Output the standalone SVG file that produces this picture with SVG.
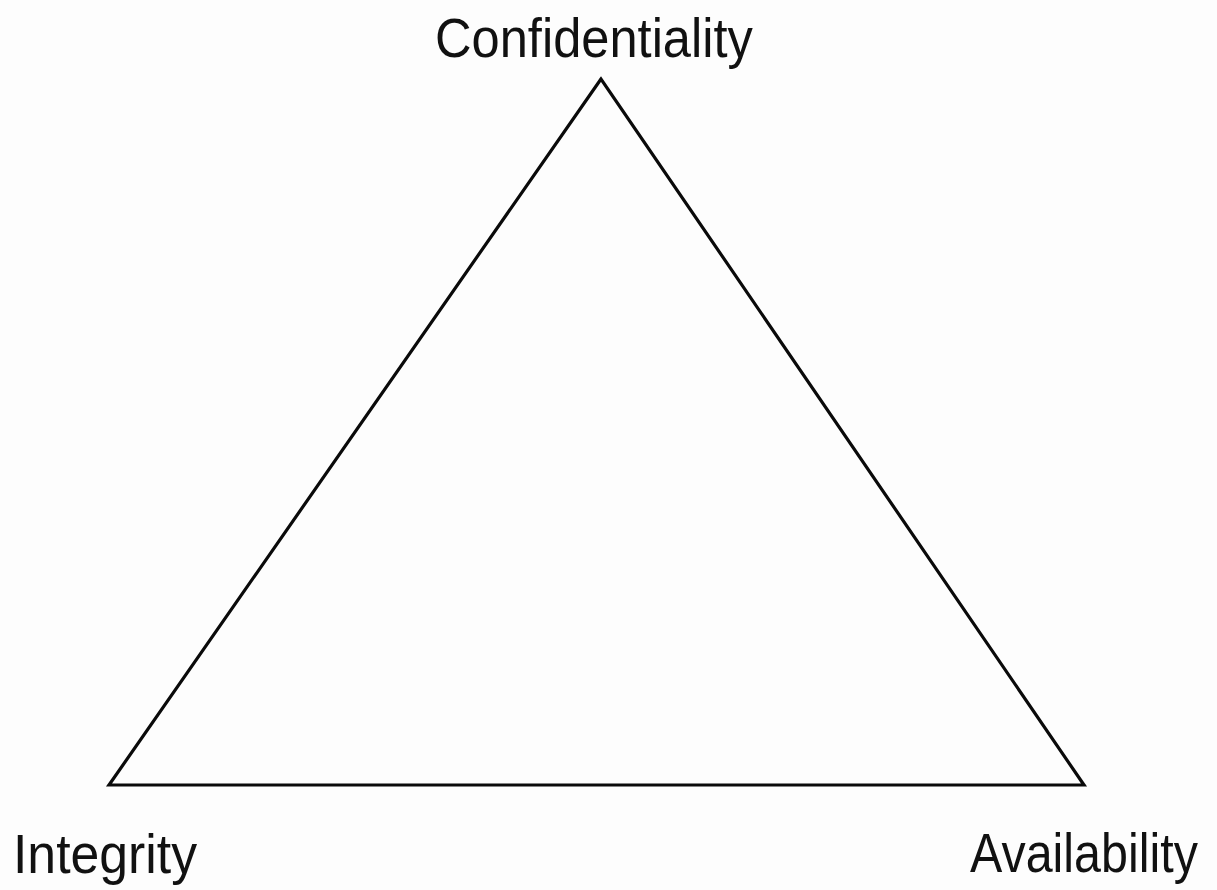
<svg xmlns="http://www.w3.org/2000/svg" width="1217" height="890" viewBox="0 0 1217 890">
<style>
.lbl{font-family:"Liberation Sans",Arial,sans-serif;font-size:56px;fill:#111;}
.edge{fill:none;stroke:#0a0a0a;stroke-width:3.2;stroke-linejoin:miter;}
</style>
<rect width="1217" height="890" fill="#fdfdfd"/>
<g id="connectors">
<polygon class="edge" points="601,79 109,785 1084,785"/>
</g>
<g id="confidentiality"><text class="lbl" transform="translate(435,57) scale(0.904,1)">Confidentiality</text></g>
<g id="integrity"><text class="lbl" transform="translate(13,873) scale(0.924,1)">Integrity</text></g>
<g id="availability"><text class="lbl" transform="translate(970,872) scale(0.865,1)">Availability</text></g>
</svg>
